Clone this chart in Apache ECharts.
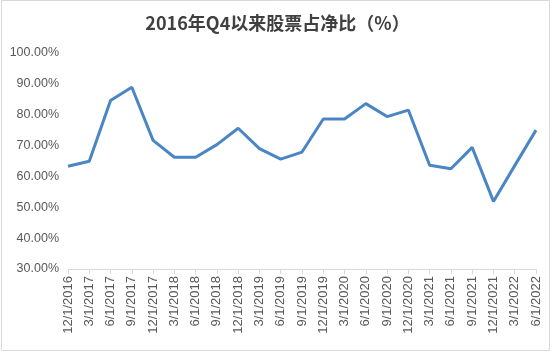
<!DOCTYPE html>
<html>
<head>
<meta charset="utf-8">
<script src="https://cdn.jsdelivr.net/npm/echarts@6/dist/echarts.min.js"></script>
<style>
html,body{margin:0;padding:0;background:#fff;}
#chart{width:555px;height:354px;}
</style>
</head>
<body>
<div id="chart"></div>
<script>
const titleText = '2016年Q4以来股票占净比（%）';
const categories = ['12/1/2016','3/1/2017','6/1/2017','9/1/2017','12/1/2017','3/1/2018','6/1/2018','9/1/2018','12/1/2018','3/1/2019','6/1/2019','9/1/2019','12/1/2019','3/1/2020','6/1/2020','9/1/2020','12/1/2020','3/1/2021','6/1/2021','9/1/2021','12/1/2021','3/1/2022','6/1/2022'];
const stockRatio = [63.3,64.9,84.6,88.9,71.7,66.2,66.2,70.3,75.6,69.0,65.6,67.9,78.6,78.6,83.6,79.4,81.5,63.6,62.5,69.4,51.9,63.5,75.0];
const yMin = 30, yMax = 100, yStep = 10;

const chart = echarts.init(document.getElementById('chart'), null, {renderer:'canvas'});
chart.setOption({
  animation:false,
  backgroundColor:'#fff',
  graphic:[{type:'rect',shape:{x:1.5,y:0.5,width:548,height:350},style:{fill:'none',stroke:'#d9d9d9',lineWidth:1},silent:true}],
  title:{text:titleText,left:'center',top:9,textStyle:{fontFamily:'"Noto Sans CJK SC", sans-serif',fontSize:18,fontWeight:'bold',color:'#404040'}},
  grid:{left:68,right:19,top:53,bottom:85,containLabel:false},
  xAxis:{type:'category',data:categories,boundaryGap:false,
    axisLine:{lineStyle:{color:'#d9d9d9'}},
    axisTick:{show:true,alignWithLabel:true,length:5,lineStyle:{color:'#d9d9d9'}},
    axisLabel:{rotate:90,interval:0,fontSize:13,color:'#595959',fontFamily:'"Liberation Sans", Arial, sans-serif',margin:7},
    splitLine:{show:false}},
  yAxis:{type:'value',min:yMin,max:yMax,interval:yStep,
    axisLine:{show:false},axisTick:{show:false},splitLine:{show:false},
    axisLabel:{formatter:v=>v.toFixed(2)+'%',fontSize:12.5,color:'#595959',fontFamily:'"Liberation Sans", Arial, sans-serif',margin:9}},
  series:[{type:'line',data:stockRatio,symbol:'none',lineStyle:{color:'#4a86c4',width:3},smooth:false}]
});
</script>
</body>
</html>
